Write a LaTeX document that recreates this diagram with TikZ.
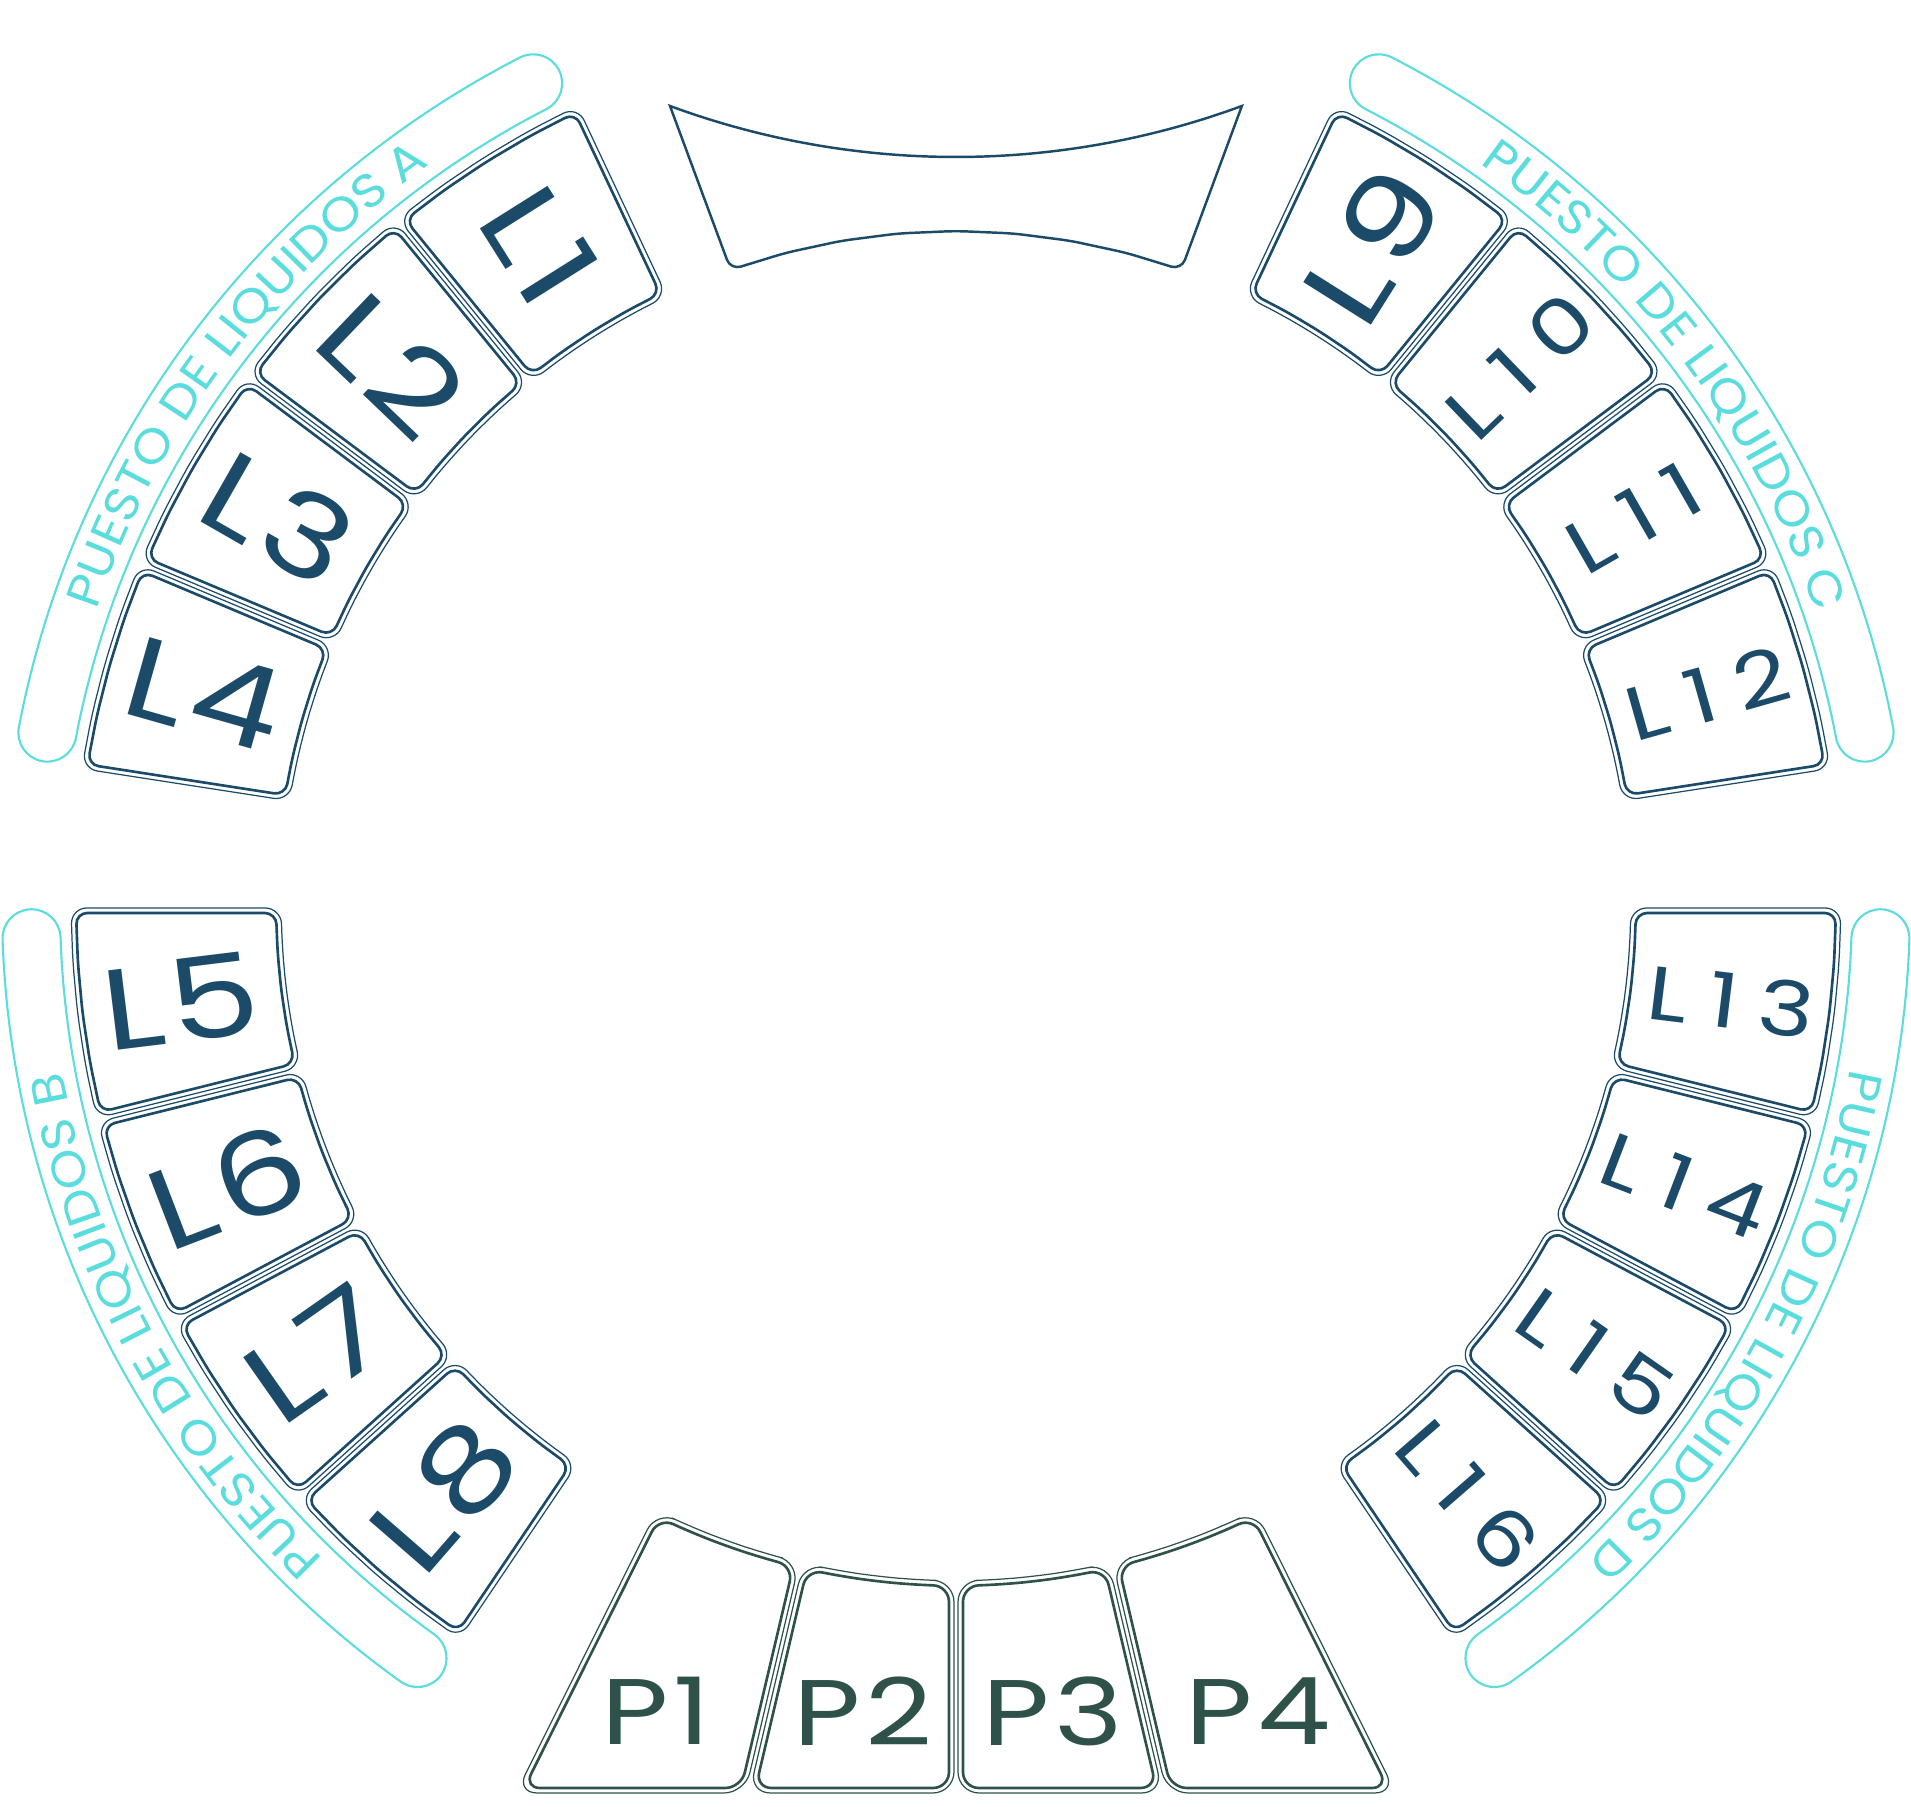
\documentclass[tikz,border=0pt]{standalone}
\usepackage{fontspec}
\usetikzlibrary{decorations.text}

\newfontfamily\tagfont[FakeStretch=1.25, LetterSpace=5]{Poppins}
\newfontfamily\tagfontwide[FakeStretch=1.25, LetterSpace=27]{Poppins}
\newfontfamily\bandfont[FakeStretch=1.1]{Poppins}

\definecolor{tileblue}{HTML}{1B4B69}
\definecolor{tilegreen}{HTML}{2E524A}
\definecolor{bandcyan}{HTML}{5BDCDD}

% ring tile: from angle, to angle, inset, style
\newcommand{\ltile}[4]{%
  \pgfmathsetmacro{\tRi}{673+#3}%
  \pgfmathsetmacro{\tRo}{887-#3}%
  \pgfmathsetmacro{\tAi}{#1+deg(#3/\tRi)}%
  \pgfmathsetmacro{\tBi}{#2-deg(#3/\tRi)}%
  \pgfmathsetmacro{\tAo}{#1+deg(#3/\tRo)}%
  \pgfmathsetmacro{\tBo}{#2-deg(#3/\tRo)}%
  \draw[#4] (\tAi:\tRi) -- (\tAo:\tRo)
    \foreach \k in {1,2,3} { -- ({\tAo+\k*(\tBo-\tAo)/4}:\tRo) } -- (\tBo:\tRo)
    -- (\tBi:\tRi)
    \foreach \k in {1,2,3} { -- ({\tBi+\k*(\tAi-\tBi)/4}:\tRi) } -- cycle;
}

% bottom tile, cut flat at the bottom
\newcommand{\ptile}[4]{%
  \pgfmathsetmacro{\tRi}{673+#3}%
  \pgfmathsetmacro{\tAi}{#1+deg(#3/\tRi)}%
  \pgfmathsetmacro{\tBi}{#2-deg(#3/\tRi)}%
  \pgfmathsetmacro{\tY}{-889+#3}%
  \pgfmathsetmacro{\tXa}{(\tY-#3*cos(#1))/sin(#1)*cos(#1)-#3*sin(#1)}%
  \pgfmathsetmacro{\tXb}{(\tY+#3*cos(#2))/sin(#2)*cos(#2)+#3*sin(#2)}%
  \draw[#4] (\tAi:\tRi) -- (\tXa,\tY) -- (\tXb,\tY) -- (\tBi:\tRi)
    \foreach \k in {1,2,3} { -- ({\tBi+\k*(\tAi-\tBi)/4}:\tRi) } -- cycle;
}

% station band with its title
\newcommand{\puesto}[3]{%
  \draw[bandline] (#2:954) arc[start angle=#2, end angle=#1, radius=954]
    arc[start angle=#1, end angle=#1-180, radius=29]
    arc[start angle=#1, end angle=#2, radius=896]
    arc[start angle=#2+180, end angle=#2, radius=29] -- cycle;
  \path[decorate, decoration={text along path, text align=center, text color=bandcyan,
    text={|\bandfont\fontsize{13.5}{14}\selectfont|PUESTO DE LIQUIDOS #3}}]
    (#2:909) arc[start angle=#2, end angle=#1, radius=909];
}

\begin{document}
\begin{tikzpicture}[
    x=0.01cm, y=0.01cm,
    tileout/.style={draw=tileblue, line width=0.35pt, rounded corners=4.5pt},
    tilein/.style={draw=tileblue, line width=0.75pt, rounded corners=3.2pt},
    posout/.style={draw=tilegreen, line width=0.35pt, rounded corners=6pt},
    posin/.style={draw=tilegreen, line width=0.75pt, rounded corners=4.5pt},
    counter/.style={draw=tileblue, line width=0.7pt},
    bandline/.style={draw=bandcyan, line width=0.6pt},
    tagbig/.style={font=\tagfont\fontsize{32.6}{33}\selectfont, text=tileblue, inner sep=0pt},
    tagsmall/.style={font=\tagfontwide\fontsize{21.6}{22}\selectfont, text=tileblue, inner sep=0pt},
    ptag/.style={font=\tagfont\fontsize{26.5}{27}\selectfont, text=tilegreen, inner sep=0pt}
]
\useasboundingbox (-956,-901) rectangle (955,906);

% ==================== Counter ====================
\draw[counter] (-286,800) arc[start angle=249.77, end angle=290.23, radius=827]
  [rounded corners=3pt] -- (70.5:675)
  \foreach \k in {1,...,7} { -- ({70.5+\k*39/8}:675) } -- (109.5:675)
  -- (-255.7,718.2) [sharp corners] -- cycle;

% ==================== Liquid tiles ====================
\foreach \s in {115.2,129.2,143.2,157.2,180,194,208,222,304,318,332,346,8.8,22.8,36.8,50.8} {
  \pgfmathsetmacro{\e}{\s+14}
  \ltile{\s}{\e}{2}{tileout}
  \ltile{\s}{\e}{7}{tilein}
}

\node[tagbig, rotate=-57.8] (L1) at (122.2:781) {L1};
\node[tagbig, rotate=-43.8] (L2) at (136.2:781) {L2};
\node[tagbig, rotate=-29.8] (L3) at (150.2:781) {L3};
\node[tagbig, rotate=-15.8] (L4) at (164.2:781) {L4};
\node[tagbig, rotate=7] (L5) at (187:781) {L5};
\node[tagbig, rotate=21] (L6) at (201:781) {L6};
\node[tagbig, rotate=35] (L7) at (215:781) {L7};
\node[tagbig, rotate=49] (L8) at (229:781) {L8};
\node[tagbig, rotate=57.8] (L9) at (57.8:781) {L9};
\node[tagsmall, rotate=43.8] (L10) at (43.8:781) {L10};
\node[tagsmall, rotate=29.8] (L11) at (29.8:781) {L11};
\node[tagsmall, rotate=15.8] (L12) at (15.8:781) {L12};
\node[tagsmall, rotate=-7] (L13) at (-7:781) {L13};
\node[tagsmall, rotate=-21] (L14) at (-21:781) {L14};
\node[tagsmall, rotate=-35] (L15) at (-35:781) {L15};
\node[tagsmall, rotate=-49] (L16) at (-49:781) {L16};

% ==================== P tiles ====================
\foreach \s in {243.5,256.75,270,283.25} {
  \pgfmathsetmacro{\e}{\s+13.25}
  \ptile{\s}{\e}{2}{posout}
  \ptile{\s}{\e}{7}{posin}
}

\node[ptag] (P1) at (-300,-805) {P1};
\node[ptag] (P2) at (-93,-805) {P2};
\node[ptag] (P3) at (97,-805) {P3};
\node[ptag] (P4) at (302,-805) {P4};

% ==================== Stations ====================
\puesto{117.2}{169.2}{A}
\puesto{10.8}{62.8}{C}
\puesto{182}{234.4}{B}
\puesto{305.6}{358}{D}

\end{tikzpicture}
\end{document}
